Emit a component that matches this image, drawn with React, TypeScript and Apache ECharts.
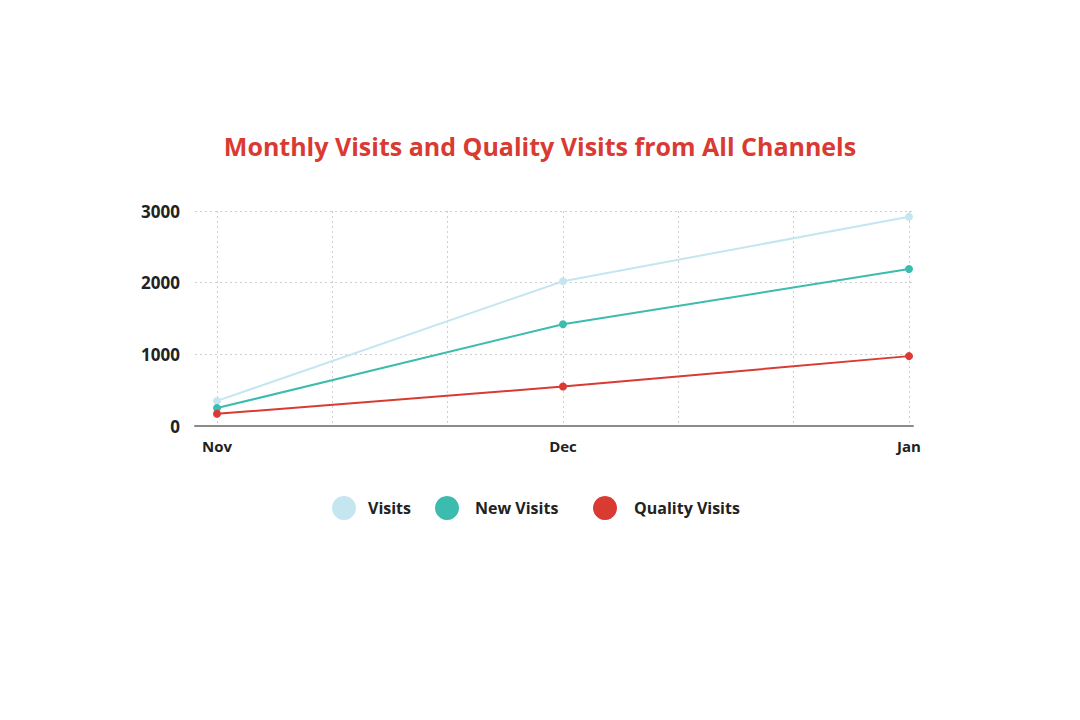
import React, { useEffect, useRef } from "react";
import * as echarts from "echarts";

const months = ["Nov", "Dec", "Jan"];
const visits = [350, 2020, 2920];
const newVisits = [250, 1420, 2190];
const qualityVisits = [170, 550, 975];
const seriesNames = ["Visits", "New Visits", "Quality Visits"];
const colors = ["#c5e6f1", "#3bbcaf", "#d93a32"];

const FONT = "'Open Sans', Lato, sans-serif";

export default function App() {
  const ref = useRef<HTMLDivElement>(null);
  useEffect(() => {
    document.body.style.margin = "0";
    const chart = echarts.init(ref.current!, null, { renderer: "svg" });
    const dotted = { show: true, lineStyle: { color: "#cfcfcf", type: [2, 3] as any, width: 1 } };
    const legendItem = (name: string, left: number, gap: number) => ({
      icon: "circle",
      itemWidth: 24,
      itemHeight: 24,
      padding: 0,
      top: 496,
      left,
      data: [name],
      textStyle: { fontFamily: FONT, fontWeight: "bold" as const, fontSize: 16, color: "#222", padding: [2, 0, 0, gap] },
    });
    const datas = [visits, newVisits, qualityVisits];
    chart.setOption({
      animation: false,
      backgroundColor: "#ffffff",
      textStyle: { fontFamily: FONT },
      title: {
        text: "Monthly Visits and Quality Visits from All Channels",
        left: "center",
        top: 128,
        textStyle: { fontFamily: FONT, fontWeight: "bold", fontSize: 25, color: "#d93a32" },
      },
      legend: [
        legendItem(seriesNames[0], 332, 7),
        legendItem(seriesNames[1], 435, 11),
        legendItem(seriesNames[2], 593, 12),
      ],
      grid: [
        { left: 195, width: 718, top: 211, height: 215 },
        { left: 217, width: 692, top: 211, height: 215 },
      ],
      xAxis: [
        {
          gridIndex: 0,
          type: "value",
          min: 0,
          max: 1,
          axisLine: { show: true, lineStyle: { color: "#8a8a8a", width: 2 } },
          axisTick: { show: false },
          axisLabel: { show: false },
          splitLine: { show: false },
        },
        {
          gridIndex: 1,
          type: "category",
          data: months,
          boundaryGap: false,
          axisLine: { show: false },
          axisTick: { show: false },
          axisLabel: { margin: 12, fontFamily: FONT, fontWeight: "bold", fontSize: 15, color: "#222" },
          splitLine: { show: false },
        },
        {
          gridIndex: 1,
          type: "value",
          min: 0,
          max: 6,
          interval: 1,
          axisLine: { show: false },
          axisTick: { show: false },
          axisLabel: { show: false },
          splitLine: dotted,
        },
      ],
      yAxis: [
        {
          gridIndex: 0,
          type: "value",
          min: 0,
          max: 3000,
          interval: 1000,
          axisLine: { show: false },
          axisTick: { show: false },
          axisLabel: {
            margin: 15,
            fontFamily: FONT,
            fontWeight: "bold",
            fontSize: 17,
            color: "#222",
            formatter: (v: number) => String(v),
          },
          splitLine: dotted,
        },
        { gridIndex: 1, type: "value", min: 0, max: 3000, show: false },
      ],
      series: seriesNames.map((name, i) => ({
        name,
        type: "line",
        xAxisIndex: 1,
        yAxisIndex: 1,
        data: datas[i],
        color: colors[i],
        symbol: "circle",
        symbolSize: 8,
        lineStyle: { width: 2, color: colors[i] },
        itemStyle: { color: colors[i] },
        z: 3 + i,
      })),
    });
    return () => chart.dispose();
  }, []);
  return <div ref={ref} style={{ width: 1080, height: 720 }} />;
}
